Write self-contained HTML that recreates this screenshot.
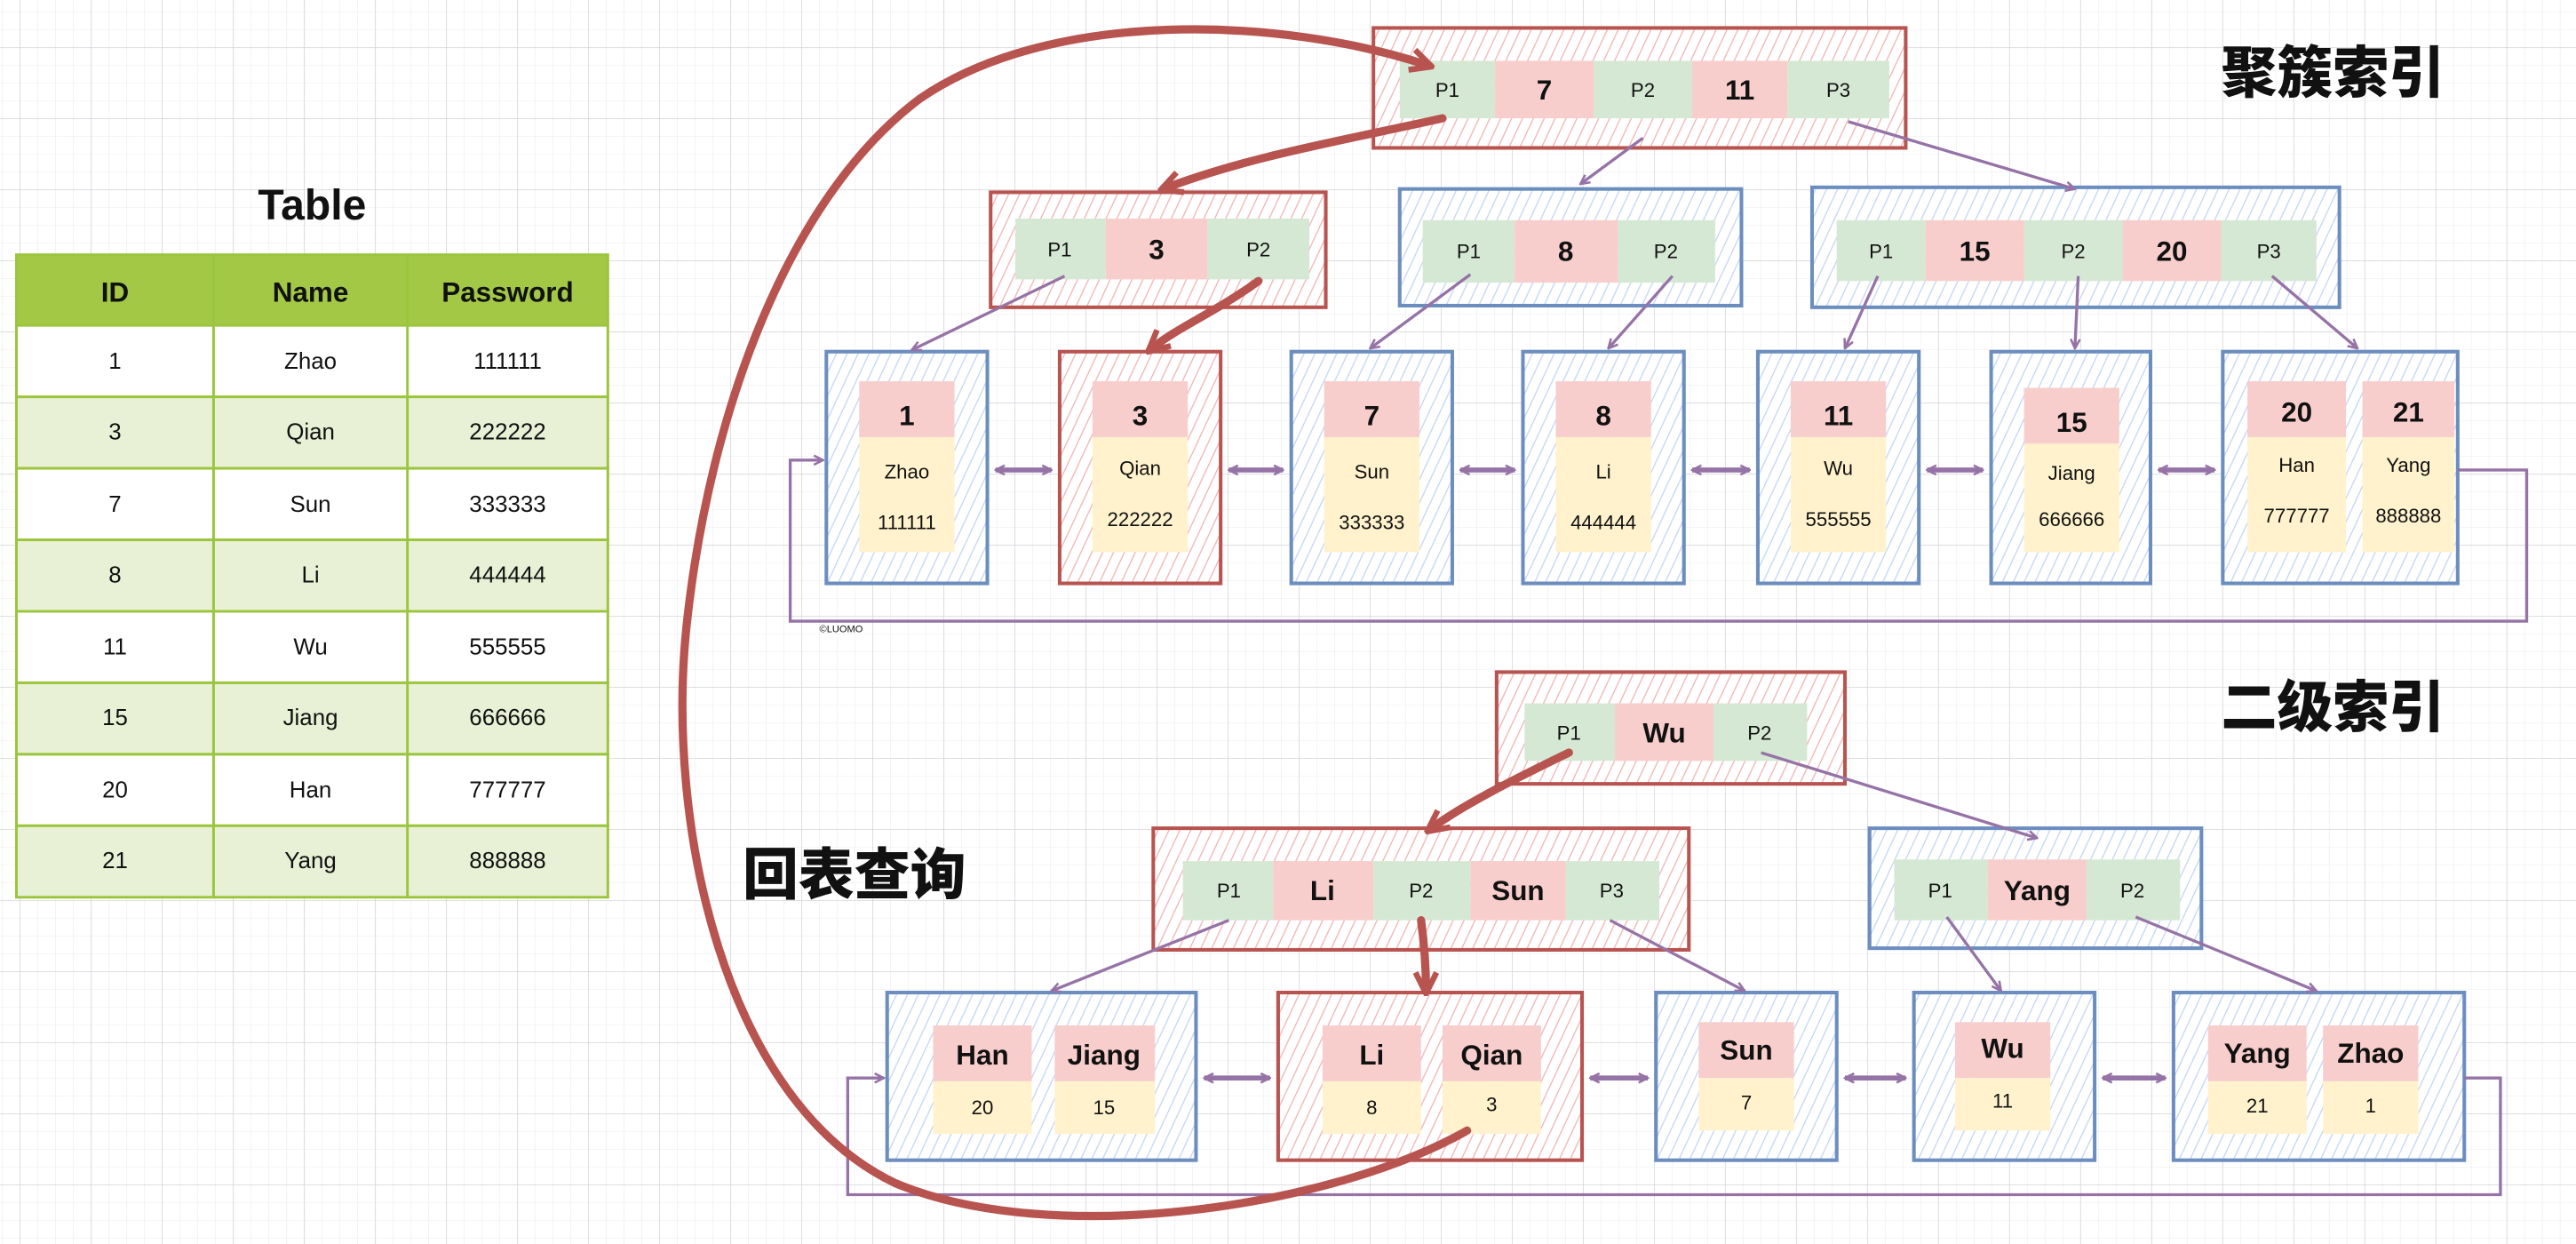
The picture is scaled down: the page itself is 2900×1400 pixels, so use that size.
<!DOCTYPE html>
<html><head><meta charset="utf-8"><style>
html,body{margin:0;padding:0;background:#fff;}
svg{display:block;}
text{font-family:"Liberation Sans","Noto Sans CJK SC",sans-serif;text-anchor:middle;dominant-baseline:central;fill:#111;}
.p{font-size:12px;}
.k{font-size:17px;font-weight:bold;}
.s{font-size:12px;}
.t{font-size:14px;}
.cn{font-family:"Noto Sans CJK SC","WenQuanYi Zen Hei",sans-serif;font-size:34px;font-weight:900;text-anchor:start;}
</style></head><body>
<svg width="2900" height="1400" viewBox="0 0 1568 757" preserveAspectRatio="none" xmlns="http://www.w3.org/2000/svg">
<defs>
<pattern id="gmin" width="10.8125" height="10.8125" patternUnits="userSpaceOnUse" patternTransform="translate(12,28.8)">
<path d="M0 0H10.8125M0 0V10.8125" stroke="#ebebf0" stroke-width="0.6" fill="none"/></pattern>
<pattern id="gmaj" width="43.25" height="43.25" patternUnits="userSpaceOnUse" patternTransform="translate(12,28.8)">
<path d="M0 0H43.25M0 0V43.25" stroke="#cfcfd6" stroke-width="0.7" fill="none"/></pattern>
<pattern id="hr" width="6" height="6" patternUnits="userSpaceOnUse" patternTransform="rotate(25)">
<rect width="6" height="6" fill="#fff"/><path d="M0 0V6" stroke="#f2b3b3" stroke-width="1.4"/></pattern>
<pattern id="hb" width="6" height="6" patternUnits="userSpaceOnUse" patternTransform="rotate(25)">
<rect width="6" height="6" fill="#fff"/><path d="M0 0V6" stroke="#c4d5f2" stroke-width="1.4"/></pattern>
<marker id="ap" viewBox="0 0 10 10" refX="9" refY="5" markerWidth="7" markerHeight="7" orient="auto-start-reverse" markerUnits="userSpaceOnUse">
<path d="M1 1L9 5L1 9" fill="none" stroke="#9673a6" stroke-width="2"/></marker>
<marker id="ar" viewBox="0 0 10 10" refX="8" refY="5" markerWidth="16" markerHeight="16" orient="auto" markerUnits="userSpaceOnUse">
<path d="M1 1L9 5L1 9" fill="none" stroke="#b85450" stroke-width="2.2"/></marker>
</defs>
<rect width="1568" height="757" fill="#fff"/>
<rect width="1568" height="757" fill="url(#gmin)"/>
<rect width="1568" height="757" fill="url(#gmaj)"/>

<!-- Table -->
<text x="190" y="125" style="font-size:26px;font-weight:bold">Table</text>
<g stroke="#9bc53d" stroke-width="1.6">
<rect x="10" y="155" width="360" height="43" fill="#a3c845"/>
<rect x="10" y="198" width="360" height="43.5" fill="#fff"/>
<rect x="10" y="241.5" width="360" height="43.5" fill="#e8f1d5"/>
<rect x="10" y="285" width="360" height="43.5" fill="#fff"/>
<rect x="10" y="328.5" width="360" height="43.5" fill="#e8f1d5"/>
<rect x="10" y="372" width="360" height="43.5" fill="#fff"/>
<rect x="10" y="415.5" width="360" height="43.5" fill="#e8f1d5"/>
<rect x="10" y="459" width="360" height="43.5" fill="#fff"/>
<rect x="10" y="502.5" width="360" height="43.5" fill="#e8f1d5"/>
<path d="M130 155V546M248 155V546" fill="none"/>
</g>
<g style="font-size:17px;font-weight:bold"><text x="70" y="178">ID</text><text x="189" y="178">Name</text><text x="309" y="178">Password</text></g>
<g class="t">
<text x="70" y="220">1</text><text x="189" y="220">Zhao</text><text x="309" y="220">111111</text>
<text x="70" y="263">3</text><text x="189" y="263">Qian</text><text x="309" y="263">222222</text>
<text x="70" y="307">7</text><text x="189" y="307">Sun</text><text x="309" y="307">333333</text>
<text x="70" y="350">8</text><text x="189" y="350">Li</text><text x="309" y="350">444444</text>
<text x="70" y="394">11</text><text x="189" y="394">Wu</text><text x="309" y="394">555555</text>
<text x="70" y="437">15</text><text x="189" y="437">Jiang</text><text x="309" y="437">666666</text>
<text x="70" y="481">20</text><text x="189" y="481">Han</text><text x="309" y="481">777777</text>
<text x="70" y="524">21</text><text x="189" y="524">Yang</text><text x="309" y="524">888888</text>
</g>

<text class="cn" x="1352" y="42">聚簇索引</text>
<text class="cn" x="1352" y="428">二级索引</text>
<text class="cn" x="452" y="530">回表查询</text>
<text x="512" y="383" style="font-size:6px">©LUOMO</text>

<!-- clustered index boxes -->
<g stroke-width="2.2">
<rect x="836" y="17" width="324" height="73" fill="url(#hr)" stroke="#b85450"/>
<rect x="603" y="117" width="204" height="70" fill="url(#hr)" stroke="#b85450"/>
<rect x="852" y="115" width="208" height="71" fill="url(#hb)" stroke="#6c8ebf"/>
<rect x="1103" y="114" width="321" height="73" fill="url(#hb)" stroke="#6c8ebf"/>
<rect x="503" y="214" width="98" height="141" fill="url(#hb)" stroke="#6c8ebf"/>
<rect x="645" y="214" width="98" height="141" fill="url(#hr)" stroke="#b85450"/>
<rect x="786" y="214" width="98" height="141" fill="url(#hb)" stroke="#6c8ebf"/>
<rect x="927" y="214" width="98" height="141" fill="url(#hb)" stroke="#6c8ebf"/>
<rect x="1070" y="214" width="98" height="141" fill="url(#hb)" stroke="#6c8ebf"/>
<rect x="1212" y="214" width="97" height="141" fill="url(#hb)" stroke="#6c8ebf"/>
<rect x="1353" y="214" width="143" height="141" fill="url(#hb)" stroke="#6c8ebf"/>
</g>
<g>
<rect x="852" y="37" width="58" height="35" fill="#d5e8d4"/><rect x="910" y="37" width="60" height="35" fill="#f8cecc"/>
<rect x="970" y="37" width="60" height="35" fill="#d5e8d4"/><rect x="1030" y="37" width="58" height="35" fill="#f8cecc"/>
<rect x="1088" y="37" width="62" height="35" fill="#d5e8d4"/>
<rect x="618" y="133" width="55" height="37" fill="#d5e8d4"/><rect x="673" y="133" width="62" height="37" fill="#f8cecc"/><rect x="735" y="133" width="62" height="37" fill="#d5e8d4"/>
<rect x="866" y="134" width="56" height="38" fill="#d5e8d4"/><rect x="922" y="134" width="63" height="38" fill="#f8cecc"/><rect x="985" y="134" width="59" height="38" fill="#d5e8d4"/>
<rect x="1118" y="134" width="54" height="37" fill="#d5e8d4"/><rect x="1172" y="134" width="60" height="37" fill="#f8cecc"/><rect x="1232" y="134" width="60" height="37" fill="#d5e8d4"/><rect x="1292" y="134" width="60" height="37" fill="#f8cecc"/><rect x="1352" y="134" width="58" height="37" fill="#d5e8d4"/>
</g>
<g class="p">
<text x="881" y="55">P1</text><text x="1000" y="55">P2</text><text x="1119" y="55">P3</text>
<text x="645" y="152">P1</text><text x="766" y="152">P2</text>
<text x="894" y="153">P1</text><text x="1014" y="153">P2</text>
<text x="1145" y="153">P1</text><text x="1262" y="153">P2</text><text x="1381" y="153">P3</text>
</g>
<g class="k">
<text x="940" y="55">7</text><text x="1059" y="55">11</text>
<text x="704" y="152">3</text><text x="953" y="153">8</text>
<text x="1202" y="153">15</text><text x="1322" y="153">20</text>
</g>
<g>
<rect x="523" y="232" width="58" height="34" fill="#f8cecc"/><rect x="523" y="266" width="58" height="70" fill="#fff2cc"/>
<rect x="665" y="232" width="58" height="34" fill="#f8cecc"/><rect x="665" y="266" width="58" height="70" fill="#fff2cc"/>
<rect x="806" y="232" width="58" height="34" fill="#f8cecc"/><rect x="806" y="266" width="58" height="70" fill="#fff2cc"/>
<rect x="947" y="232" width="58" height="34" fill="#f8cecc"/><rect x="947" y="266" width="58" height="70" fill="#fff2cc"/>
<rect x="1090" y="232" width="58" height="34" fill="#f8cecc"/><rect x="1090" y="266" width="58" height="70" fill="#fff2cc"/>
<rect x="1232" y="236" width="58" height="34" fill="#f8cecc"/><rect x="1232" y="270" width="58" height="66" fill="#fff2cc"/>
<rect x="1368" y="232" width="60" height="34" fill="#f8cecc"/><rect x="1368" y="266" width="60" height="70" fill="#fff2cc"/>
<rect x="1438" y="232" width="56" height="34" fill="#f8cecc"/><rect x="1438" y="266" width="56" height="70" fill="#fff2cc"/>
</g>
<g class="k">
<text x="552" y="253">1</text><text x="694" y="253">3</text><text x="835" y="253">7</text><text x="976" y="253">8</text>
<text x="1119" y="253">11</text><text x="1261" y="257">15</text><text x="1398" y="251">20</text><text x="1466" y="251">21</text>
</g>
<g class="s">
<text x="552" y="287">Zhao</text><text x="552" y="318">111111</text>
<text x="694" y="285">Qian</text><text x="694" y="316">222222</text>
<text x="835" y="287">Sun</text><text x="835" y="318">333333</text>
<text x="976" y="287">Li</text><text x="976" y="318">444444</text>
<text x="1119" y="285">Wu</text><text x="1119" y="316">555555</text>
<text x="1261" y="288">Jiang</text><text x="1261" y="316">666666</text>
<text x="1398" y="283">Han</text><text x="1398" y="314">777777</text>
<text x="1466" y="283">Yang</text><text x="1466" y="314">888888</text>
</g>
<g stroke="#9673a6" stroke-width="1.8" fill="none" marker-end="url(#ap)">
<path d="M1000 84L962 112"/>
<path d="M1125 74L1263 115"/>
<path d="M648 168L555 213"/>
<path d="M895 167L834 212"/>
<path d="M1018 168L979 212"/>
<path d="M1143 168L1123 212"/>
<path d="M1265 168L1263 212"/>
<path d="M1383 168L1435 212"/>
<path d="M1496 286H1538V378H481V280H501"/>
</g>
<g stroke="#9673a6" stroke-width="3" fill="none" marker-start="url(#ap)" marker-end="url(#ap)">
<path d="M606 286H640"/><path d="M748 286H781"/><path d="M889 286H922"/><path d="M1030 286H1065"/><path d="M1173 286H1207"/><path d="M1314 286H1348"/>
</g>
<g stroke="#b85450" stroke-width="5" fill="none" stroke-linecap="round" marker-end="url(#ar)">
<path d="M878 72C820 85 760 95 708 115"/>
<path d="M766 171C740 190 715 200 700 213"/>
</g>

<!-- secondary -->
<g stroke-width="2.2">
<rect x="911" y="409" width="212" height="68" fill="url(#hr)" stroke="#b85450"/>
<rect x="702" y="504" width="326" height="74" fill="url(#hr)" stroke="#b85450"/>
<rect x="1138" y="504" width="202" height="73" fill="url(#hb)" stroke="#6c8ebf"/>
<rect x="540" y="604" width="188" height="102" fill="url(#hb)" stroke="#6c8ebf"/>
<rect x="778" y="604" width="185" height="102" fill="url(#hr)" stroke="#b85450"/>
<rect x="1008" y="604" width="110" height="102" fill="url(#hb)" stroke="#6c8ebf"/>
<rect x="1165" y="604" width="110" height="102" fill="url(#hb)" stroke="#6c8ebf"/>
<rect x="1323" y="604" width="177" height="102" fill="url(#hb)" stroke="#6c8ebf"/>
</g>
<g>
<rect x="928" y="428" width="55" height="35" fill="#d5e8d4"/><rect x="983" y="428" width="60" height="35" fill="#f8cecc"/><rect x="1043" y="428" width="57" height="35" fill="#d5e8d4"/>
<rect x="720" y="524" width="55" height="36" fill="#d5e8d4"/><rect x="775" y="524" width="61" height="36" fill="#f8cecc"/><rect x="836" y="524" width="59" height="36" fill="#d5e8d4"/><rect x="895" y="524" width="58" height="36" fill="#f8cecc"/><rect x="953" y="524" width="57" height="36" fill="#d5e8d4"/>
<rect x="1153" y="523" width="57" height="37" fill="#d5e8d4"/><rect x="1210" y="523" width="60" height="37" fill="#f8cecc"/><rect x="1270" y="523" width="57" height="37" fill="#d5e8d4"/>
<rect x="568" y="624" width="60" height="34" fill="#f8cecc"/><rect x="568" y="658" width="60" height="32" fill="#fff2cc"/>
<rect x="642" y="624" width="61" height="34" fill="#f8cecc"/><rect x="642" y="658" width="61" height="32" fill="#fff2cc"/>
<rect x="805" y="624" width="60" height="34" fill="#f8cecc"/><rect x="805" y="658" width="60" height="32" fill="#fff2cc"/>
<rect x="878" y="624" width="60" height="34" fill="#f8cecc"/><rect x="878" y="658" width="60" height="32" fill="#fff2cc"/>
<rect x="1034" y="622" width="58" height="34" fill="#f8cecc"/><rect x="1034" y="656" width="58" height="32" fill="#fff2cc"/>
<rect x="1190" y="622" width="58" height="34" fill="#f8cecc"/><rect x="1190" y="656" width="58" height="32" fill="#fff2cc"/>
<rect x="1344" y="624" width="60" height="34" fill="#f8cecc"/><rect x="1344" y="658" width="60" height="32" fill="#fff2cc"/>
<rect x="1414" y="624" width="58" height="34" fill="#f8cecc"/><rect x="1414" y="658" width="58" height="32" fill="#fff2cc"/>
</g>
<g class="p">
<text x="955" y="446">P1</text><text x="1071" y="446">P2</text>
<text x="748" y="542">P1</text><text x="865" y="542">P2</text><text x="981" y="542">P3</text>
<text x="1181" y="542">P1</text><text x="1298" y="542">P2</text>
</g>
<g class="k">
<text x="1013" y="446">Wu</text><text x="805" y="542">Li</text><text x="924" y="542">Sun</text><text x="1240" y="542">Yang</text>
<text x="598" y="642">Han</text><text x="672" y="642">Jiang</text><text x="835" y="642">Li</text><text x="908" y="642">Qian</text>
<text x="1063" y="639">Sun</text><text x="1219" y="638">Wu</text><text x="1374" y="641">Yang</text><text x="1443" y="641">Zhao</text>
</g>
<g class="s">
<text x="598" y="674">20</text><text x="672" y="674">15</text><text x="835" y="674">8</text><text x="908" y="672">3</text>
<text x="1063" y="671">7</text><text x="1219" y="670">11</text><text x="1374" y="673">21</text><text x="1443" y="673">1</text>
</g>
<g stroke="#9673a6" stroke-width="1.8" fill="none" marker-end="url(#ap)">
<path d="M1072 458L1240 510"/>
<path d="M748 560L640 603"/>
<path d="M980 560L1062 603"/>
<path d="M1185 558L1218 603"/>
<path d="M1300 558L1410 603"/>
<path d="M1500 656H1522V727H516V656H538"/>
</g>
<g stroke="#9673a6" stroke-width="3" fill="none" marker-start="url(#ap)" marker-end="url(#ap)">
<path d="M733 656H773"/><path d="M968 656H1003"/><path d="M1123 656H1160"/><path d="M1280 656H1318"/>
</g>
<g stroke="#b85450" stroke-width="5" fill="none" stroke-linecap="round" marker-end="url(#ar)">
<path d="M955 458C920 475 890 490 870 505"/>
<path d="M865 560C867 575 868 590 868 603"/>
<path d="M893 688C810 735 640 760 545 720C440 670 405 500 418 380C432 250 480 120 560 60C640 5 780 10 870 40"/>
</g>
</svg>
</body></html>
